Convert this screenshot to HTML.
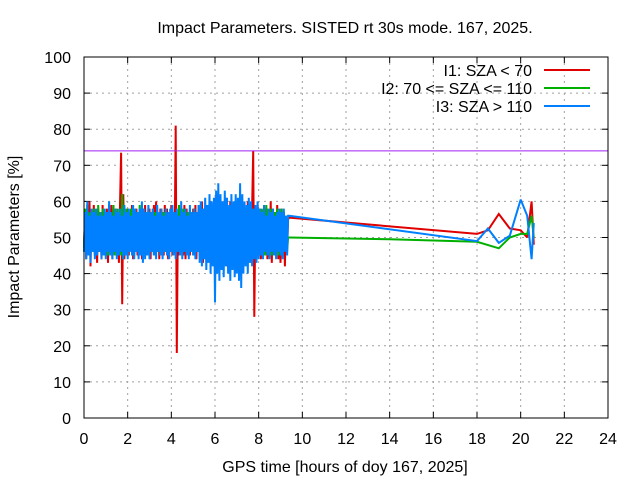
<!DOCTYPE html>
<html><head><meta charset="utf-8"><style>
body{margin:0;background:#fff;}
svg text{font-family:"Liberation Sans",sans-serif;font-size:16px;fill:#000;}
</style></head><body>
<svg width="640" height="480" viewBox="0 0 640 480">
<rect width="640" height="480" fill="#fff"/>
<text x="345" y="33" text-anchor="middle">Impact Parameters. SISTED rt 30s mode. 167, 2025.</text>
<g id="grid"></g>
<g id="axes"></g>
<g id="series"></g>
<rect x="84" y="57" width="524" height="361" fill="none" stroke="#000" stroke-width="1"/>
<text x="345" y="472" text-anchor="middle">GPS time [hours of doy 167, 2025]</text>
<text transform="translate(19,237) rotate(-90)" text-anchor="middle">Impact Parameters [%]</text>
<g>
<text x="532" y="76" text-anchor="end">I1: SZA &lt; 70</text>
<line x1="544" y1="70" x2="590" y2="70" stroke="#e00000" stroke-width="2"/>
<text x="532" y="94" text-anchor="end">I2: 70 &lt;= SZA &lt;= 110</text>
<line x1="544" y1="88" x2="590" y2="88" stroke="#00b000" stroke-width="2"/>
<text x="532" y="112" text-anchor="end">I3: SZA &gt; 110</text>
<line x1="544" y1="106" x2="590" y2="106" stroke="#0080ff" stroke-width="2"/>
</g>
</svg>
<script>
const xTicks=[0,2,4,6,8,10,12,14,16,18,20,22,24];
const yTicks=[0,10,20,30,40,50,60,70,80,90,100];
const refLine=74;
const denseStart=0, denseStep=0.05;
const red=[48,57,44,58,46,60,42,55,47,59,45,56,43,58,46,57,44,59,47,56,
45,58,43,57,46,59,44,56,47,58,45,57,43,59,73.5,31.5,62,44,57,46,
58,45,56,47,59,44,57,46,58,45,55,47,58,44,57,46,59,45,56,47,
58,44,57,46,59,45,60,47,56,44,58,46,57,45,59,46,58,44,57,46,
59,45,57,46,81,18,56,45,58,46,57,45,59,44,58,46,57,45,56,47,
58,45,59,44,57,46,58,45,60,43,57,46,59,44,58,45,60,43,57,46,
61,44,58,45,60,43,59,46,57,44,61,42,58,45,60,44,59,46,58,43,
60,44,59,45,61,43,58,46,57,44,60,45,59,43,58,74,28,57,45,59,
46,58,44,57,46,59,45,58,44,57,46,60,43,58,45,57,46,59,44,56,
43,58,45,57,42,56,47,55];
const green=[47,58,46,59,45,57,48,56,46,58,45,57,47,59,46,56,45,58,47,57,
46,57,45,58,47,56,46,59,45,57,47,58,46,56,45,62,44,57,46,58,
45,57,47,58,46,56,45,58,47,57,46,59,45,56,47,58,46,57,45,58,
47,56,46,58,45,57,47,59,46,56,45,58,47,57,46,58,45,56,47,57,
46,58,45,57,47,56,46,59,45,57,47,58,46,56,45,57,47,58,46,57,
45,58,47,56,46,59,45,57,47,58,46,56,45,58,47,57,46,59,45,56,
47,58,46,57,45,59,47,56,46,58,45,57,47,58,46,56,45,59,47,57,
46,56,45,58,47,57,46,59,45,56,47,58,46,57,45,58,47,56,46,58,
45,57,47,58,46,56,45,59,47,57,46,58,45,56,47,57,46,58,45,57,
46,58,45,57,47,56,46,50];
const blue=[46,57,44,60,45,56,43,58,46,57,44,58,45,56,46,57,44,56,45,58,
44,57,46,60,45,57,44,56,46,58,44,57,45,58,46,56,44,59,45,57,
44,58,46,56,45,59,44,58,46,57,44,58,45,60,43,58,44,57,45,59,
44,57,46,58,45,56,44,59,46,57,45,58,44,56,46,58,45,57,44,58,
46,59,45,57,44,58,46,56,45,60,44,57,46,58,45,56,44,59,46,57,
45,58,44,57,46,59,43,60,42,58,44,61,41,59,43,62,40,60,42,61,
32,63,40,65,38,62,41,60,39,63,42,61,40,59,38,62,41,60,39,62,
40,61,38,65,36,62,40,60,42,59,40,61,43,60,42,58,44,59,43,60,
44,58,45,57,44,59,46,56,45,58,44,57,46,58,45,56,44,57,46,58,
45,57,44,58,46,56,45,56];
const redTailT=[9.4,18,18.5,19,19.5,20,20.3,20.5,20.6];
const redTailV=[55.5,51,52,56.5,52.5,52,50,60,48];
const greenTailT=[9.4,14,18,19,19.5,20,20.3,20.5,20.6];
const greenTailV=[50,49.5,48.8,47,50,51,51,56,50];
const blueTailT=[9.4,18,18.5,19,19.5,20,20.3,20.5,20.6];
const blueTailV=[56,49,52.5,48.5,50.5,60.5,56,44,54];

const X0=84,X1=608,Y0=418,Y1=57;
const xs=v=>X0+(v-0)/24*(X1-X0);
const ys=v=>Y0-(v-0)/100*(Y0-Y1);
const NS="http://www.w3.org/2000/svg";
function mk(tag,attrs,parent){const e=document.createElementNS(NS,tag);for(const k in attrs)e.setAttribute(k,attrs[k]);parent.appendChild(e);return e;}
const grid=document.getElementById('grid'),axes=document.getElementById('axes'),ser=document.getElementById('series');
xTicks.forEach(t=>{const x=xs(t);
 if(t>0&&t<24){const g=mk('line',{x1:x,y1:Y1,x2:x,y2:Y0,stroke:'#a0a0a0','stroke-dasharray':'2,4'},grid);
 
 }
 const a=mk('line',{x1:x,y1:Y0,x2:x,y2:Y0-6,stroke:'#000'},axes);
 
 
 const b=mk('line',{x1:x,y1:Y1,x2:x,y2:Y1+6,stroke:'#000'},axes);
 
 
 const tx=mk('text',{x:x,y:444,'text-anchor':'middle'},axes);tx.textContent=t;
 
 
});
yTicks.forEach(t=>{const y=ys(t);
 if(t>0&&t<100){const g=mk('line',{x1:X0,y1:y,x2:X1,y2:y,stroke:'#a0a0a0','stroke-dasharray':'2,4'},grid);
 
 }
 const a=mk('line',{x1:X0,y1:y,x2:X0+6,y2:y,stroke:'#000'},axes);
 
 
 const b=mk('line',{x1:X1,y1:y,x2:X1-6,y2:y,stroke:'#000'},axes);
 
 
 const tx=mk('text',{x:71,y:y+6,'text-anchor':'end'},axes);tx.textContent=t;
 
 
});
function draw(dense,tt,tv,color,name){
 const pts=dense.map((v,i)=>xs(denseStart+i*denseStep).toFixed(1)+','+ys(v).toFixed(1));
 tt.forEach((t,i)=>pts.push(xs(t).toFixed(1)+','+ys(tv[i]).toFixed(1)));
 const p=mk('polyline',{points:pts.join(' '),fill:'none',stroke:color,'stroke-width':2,'stroke-linejoin':'miter','stroke-miterlimit':2},ser);
 
 
}
draw(red,redTailT,redTailV,'#e00000','series-i1');
draw(green,greenTailT,greenTailV,'#00b000','series-i2');
draw(blue,blueTailT,blueTailV,'#0080ff','series-i3');
const rl=mk('line',{x1:X0,y1:ys(refLine),x2:X1,y2:ys(refLine),stroke:'#a020f0','stroke-width':1},ser);


</script>
</body></html>
